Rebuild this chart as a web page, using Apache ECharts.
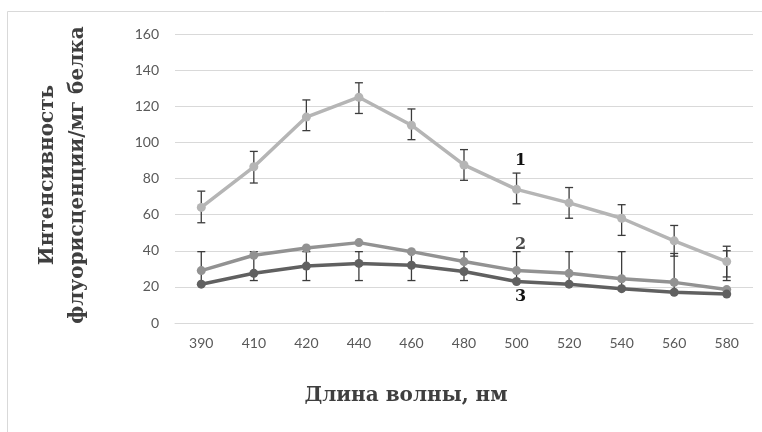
<!DOCTYPE html>
<html>
<head>
<meta charset="utf-8">
<script src="https://cdn.jsdelivr.net/npm/echarts@6/dist/echarts.min.js"></script>
<style>
  html, body { margin: 0; padding: 0; background: #fff; }
  #chart { width: 762px; height: 432px; }
</style>
</head>
<body>
<div id="chart"></div>
<script>
// длина волны, нм
var waves = ['390', '410', '420', '440', '460', '480', '500', '520', '540', '560', '580'];
var s1 = [64, 86.5, 114, 125, 109.5, 87.5, 74, 66.5, 58, 45.5, 34];
var s2 = [29, 37.5, 41.5, 44.5, 39.5, 34, 29, 27.5, 24.5, 22.5, 18.5];
var s3 = [21.5, 27.5, 31.5, 33, 32, 28.5, 23, 21.5, 19, 17, 16];
// error bars
var s1Low = [55.5, 77.5, 106.5, 116, 101.5, 79, 66, 58, 48.5, 37, 25.5];
var s1High = [73, 95, 123.5, 133, 118.5, 96, 83, 75, 65.5, 54, 42.5];
var grLow = [21.5, 23.5, 23.5, 23.5, 23.5, 23.5, 23, 21.5, 19, 17, 23.5];
var grHigh = [39.5, 39.5, 39.5, 39.5, 39.5, 39.5, 39.5, 39.5, 39.5, 38.5, 40];

var chart = echarts.init(document.getElementById('chart'));

function errData(low, high) {
    return low.map(function (v, i) { return [i, v, high[i]]; });
}

function renderErr(params, api) {
    var lo = api.coord([api.value(0), api.value(1)]);
    var hi = api.coord([api.value(0), api.value(2)]);
    var w = 4;
    var st = { stroke: '#3c3c3c', lineWidth: 1.3 };
    return {
        type: 'group',
        children: [
            { type: 'line', shape: { x1: hi[0], y1: hi[1], x2: lo[0], y2: lo[1] }, style: st },
            { type: 'line', shape: { x1: hi[0] - w, y1: hi[1], x2: hi[0] + w, y2: hi[1] }, style: st },
            { type: 'line', shape: { x1: lo[0] - w, y1: lo[1], x2: lo[0] + w, y2: lo[1] }, style: st }
        ]
    };
}

var serif = '"DejaVu Serif", "Liberation Serif", serif';

function numLabel(txt, color) {
    return {
        show: true, formatter: txt, color: color, offset: [4, 0],
        fontFamily: serif, fontWeight: 'bold', fontSize: 16
    };
}

var option = {
    animation: false,
    backgroundColor: '#fff',
    grid: { left: 175, right: 9, top: 34, bottom: 109 },
    graphic: [
        { type: 'line', shape: { x1: 7.5, y1: 11.5, x2: 762, y2: 11.5 }, style: { stroke: '#d9d9d9', lineWidth: 1 } },
        { type: 'line', shape: { x1: 7.5, y1: 11.5, x2: 7.5, y2: 432 }, style: { stroke: '#d9d9d9', lineWidth: 1 } },
        {
            type: 'text', x: 406, y: 396,
            style: {
                text: 'Длина волны, нм', font: 'bold 20px ' + serif, fill: '#3f3f3f',
                align: 'center', verticalAlign: 'middle'
            }
        },
        {
            type: 'text', x: 63, y: 175, rotation: Math.PI / 2,
            style: {
                text: 'Интенсивность\nфлуорисценции/мг белка',
                font: 'bold 20px ' + serif, fill: '#3f3f3f',
                align: 'center', verticalAlign: 'middle', lineHeight: 30
            }
        }
    ],
    xAxis: {
        type: 'category',
        data: waves,
        axisTick: { show: false },
        axisLine: { lineStyle: { color: '#d9d9d9' } },
        axisLabel: { color: '#595959', fontFamily: 'Lato', fontSize: 14, margin: 13 }
    },
    yAxis: {
        type: 'value',
        min: 0, max: 160, interval: 20,
        axisLine: { show: false },
        axisTick: { show: false },
        axisLabel: { color: '#595959', fontFamily: 'Lato', fontSize: 14, margin: 16 },
        splitLine: { lineStyle: { color: '#d9d9d9', width: 1 } }
    },
    series: [
        {
            type: 'custom', renderItem: renderErr, data: errData(s1Low, s1High),
            encode: { x: 0, y: [1, 2] }, z: 1, silent: true
        },
        {
            type: 'custom', renderItem: renderErr, data: errData(grLow, grHigh),
            encode: { x: 0, y: [1, 2] }, z: 1, silent: true
        },
        {
            name: '1', type: 'line', data: s1, z: 3,
            symbol: 'circle', symbolSize: 9,
            lineStyle: { color: '#b5b5b5', width: 3.5 },
            itemStyle: { color: '#b5b5b5' },
            markPoint: {
                symbol: 'circle', symbolSize: 0,
                label: numLabel('1', '#111'),
                data: [{ coord: ['500', 90] }]
            }
        },
        {
            name: '2', type: 'line', data: s2, z: 3,
            symbol: 'circle', symbolSize: 9,
            lineStyle: { color: '#929292', width: 3.5 },
            itemStyle: { color: '#929292' },
            markPoint: {
                symbol: 'circle', symbolSize: 0,
                label: numLabel('2', '#4a4a4a'),
                data: [{ coord: ['500', 43] }]
            }
        },
        {
            name: '3', type: 'line', data: s3, z: 3,
            symbol: 'circle', symbolSize: 9,
            lineStyle: { color: '#606060', width: 3.5 },
            itemStyle: { color: '#606060' },
            markPoint: {
                symbol: 'circle', symbolSize: 0,
                label: numLabel('3', '#111'),
                data: [{ coord: ['500', 14.5] }]
            }
        }
    ]
};

chart.setOption(option);
window.addEventListener('resize', function () {
    chart.resize();
});
</script>
</body>
</html>
